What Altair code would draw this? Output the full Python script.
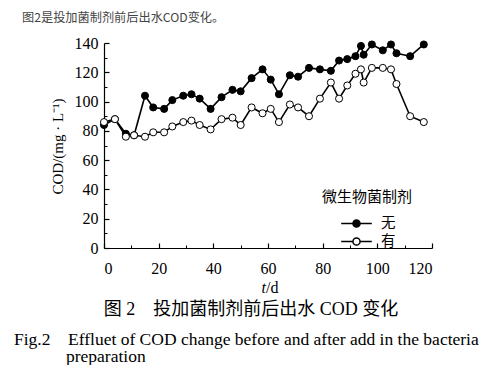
import altair as alt
import pandas as pd

# ---- data ----
days = [0, 4, 8, 11, 15, 18, 22, 25, 29, 32, 35, 39, 43, 47, 50, 54, 58, 61, 64, 68,
        71, 75, 79, 83, 86, 89, 92, 94, 95, 98, 102, 105, 107, 112, 117]
cod_none = [84, 88, 78, 77, 104, 96, 95, 101, 104, 105, 102, 95, 103, 108, 107, 116, 122, 115, 105, 118,
            117, 123, 122, 121, 128, 129, 131, 138, 132, 139, 135, 139, 133, 131, 139]
cod_have = [86, 88, 76, 77, 76, 79, 79, 83, 86, 87, 84, 81, 88, 89, 84, 96, 92, 95, 86, 98,
            96, 90, 102, 113, 102, 111, 119, 122, 113, 123, 123, 122, 112, 90, 86]
series_names = ["无", "有"]
legend_title = "微生物菌制剂"
x_ticks = [0, 20, 40, 60, 80, 100, 120]
x_minor = [10, 30, 50, 70, 90, 110]
y_ticks = [0, 20, 40, 60, 80, 100, 120, 140]
y_minor = [10, 30, 50, 70, 90, 110, 130]
y_title = "COD/(mg · L⁻¹)"
x_title_italic = "t"
x_title_rest = "/d"
header = "图2是投加菌制剂前后出水COD变化。"
cap_cn = "图 2　投加菌制剂前后出水 COD 变化"
cap_fig = "Fig.2"
cap_en1 = "Effluet of COD change before and after add in the bacteria"
cap_en2 = "preparation"

n = len(days)
df = pd.DataFrame({
    "t": days + days,
    "cod": cod_none + cod_have,
    "g": [series_names[0]] * n + [series_names[1]] * n,
    "o": list(range(2 * n)),
})

W, H = 328, 205
SERIF = "Liberation Serif"
MIX = "'Liberation Serif', 'Noto Sans CJK SC'"
CJK = "Noto Sans CJK SC"

xs = alt.Scale(domain=[0, 120], nice=False, zero=False)
ys = alt.Scale(domain=[0, 140], nice=False)

base = alt.Chart(df)

lines = base.mark_line(color="black", strokeWidth=1.6).encode(
    x=alt.X("t:Q", scale=xs, axis=alt.Axis(
        values=x_ticks, ticks=False, grid=False, title=None, domainColor="black",
        domainWidth=1.2, labelFont=SERIF, labelFontSize=16, labelColor="black",
        labelPadding=12)),
    y=alt.Y("cod:Q", scale=ys, axis=alt.Axis(
        values=y_ticks, ticks=False, grid=False, domainColor="black", domainWidth=1.2,
        labelFont=SERIF, labelFontSize=16, labelColor="black", labelPadding=6,
        title=y_title, titleFont=MIX, titleFontSize=15, titleFontWeight="normal",
        titleColor="black", titleAngle=-90, titleX=-39, titleY=103, titleAlign="center",
        titleBaseline="bottom")),
    detail="g:N",
)

path = ("M-1.8,0L-0.42,0M0.42,0L1.8,0"
        "M-0.42,0A0.42,0.42,0,1,1,0.42,0A0.42,0.42,0,1,1,-0.42,0Z")

points = base.mark_point(filled=True, size=50, stroke="black", strokeWidth=1, opacity=1).encode(
    x=alt.X("t:Q", scale=xs, axis=alt.Axis(
        orient="top", offset=-H, values=x_ticks, tickSize=5, tickColor="black",
        tickWidth=1.2, labels=False, domain=False, grid=False, title=None)),
    y=alt.Y("cod:Q", scale=ys, axis=alt.Axis(
        orient="right", offset=-W, values=y_ticks, tickSize=5, tickColor="black",
        tickWidth=1.2, labels=False, domain=False, grid=False, title=None)),
    fill=alt.Fill("g:N", scale=alt.Scale(domain=series_names, range=["black", "white"]),
                  legend=alt.Legend(
                      title=None, orient="none", legendX=243, legendY=171,
                      symbolType=path, symbolSize=289, symbolStrokeColor="black",
                      symbolStrokeWidth=1.5, labelFont=CJK, labelFontSize=14.5,
                      labelColor="black", labelOffset=15, rowPadding=1, padding=0)),
    order="o:Q",
)

minor = base.mark_point(opacity=0).encode(
    x=alt.X("t:Q", scale=xs, axis=alt.Axis(
        orient="top", offset=-H, values=x_minor, tickSize=3, tickColor="black",
        labels=False, domain=False, grid=False, title=None)),
    y=alt.Y("cod:Q", scale=ys, axis=alt.Axis(
        orient="right", offset=-W, values=y_minor, tickSize=3, tickColor="black",
        labels=False, domain=False, grid=False, title=None)),
)


def txt(s, x, y, font, size, align="left", color="black", style="normal"):
    return alt.Chart(pd.DataFrame({"s": [s]})).mark_text(
        font=font, fontSize=size, align=align, baseline="middle", color=color,
        fontStyle=style).encode(text="s:N", x=alt.value(x), y=alt.value(y))


texts = [
    txt(legend_title, 263, 154, CJK, 15, align="center"),
    txt(x_title_italic, 162, 245, SERIF, 16, align="right", style="italic"),
    txt(x_title_rest, 162, 245, SERIF, 16, align="left"),
    txt(header, -82, -25.5, CJK, 12.2, color="#444444"),
    txt(cap_cn, 147, 267, MIX, 18, align="center"),
    txt(cap_fig, -90, 297, SERIF, 17.5),
    txt(cap_en1, -36, 297, SERIF, 17.5),
    txt(cap_en2, -38, 314, SERIF, 17.5),
]

chart = alt.layer(lines, points, minor, *texts).resolve_axis(
    x="independent", y="independent"
).properties(
    width=W, height=H,
    autosize=alt.AutoSizeParams(type="none"),
    padding={"left": 96, "top": 35, "right": 64, "bottom": 117},
    background="white",
).configure_view(stroke=None).configure_axis(labelFont=SERIF, titleFont=MIX)

chart.save("out.html", embed_options={"renderer": "svg", "actions": False})
